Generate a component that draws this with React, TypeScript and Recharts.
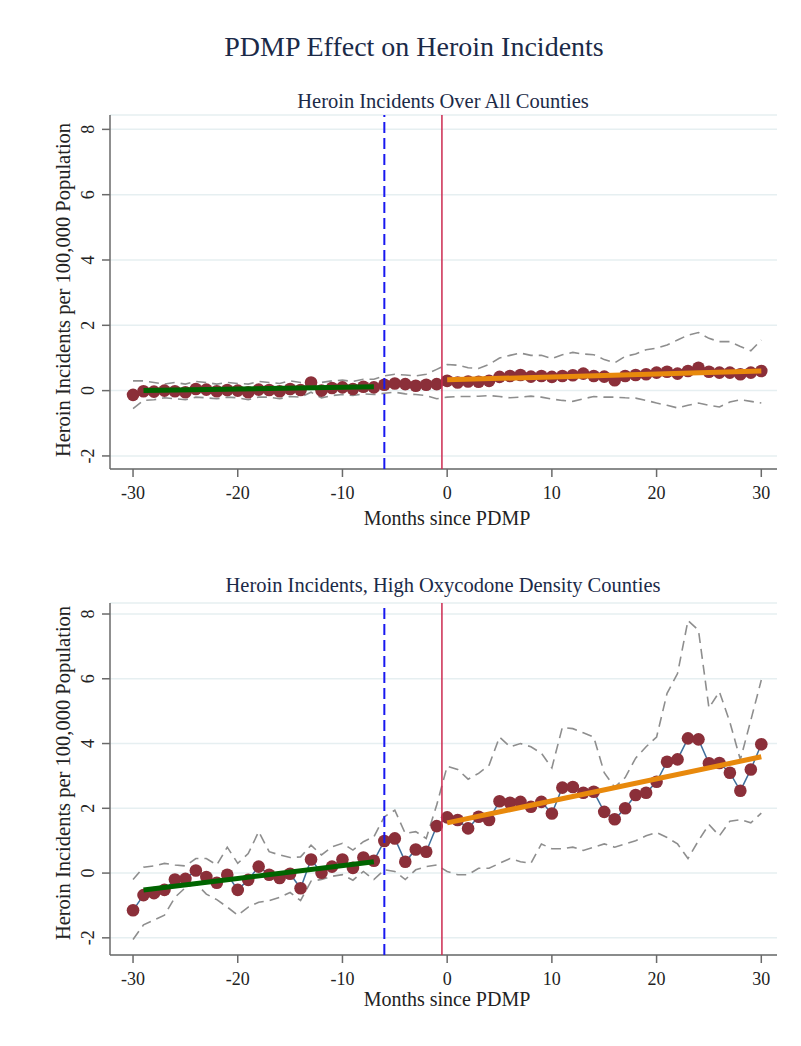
import {
  ComposedChart,
  Line,
  XAxis,
  YAxis,
  CartesianGrid,
  ReferenceLine,
} from 'recharts';

const months = [
  -30, -29, -28, -27, -26, -25, -24, -23, -22, -21, -20, -19, -18, -17, -16, -15, -14, -13, -12,
  -11, -10, -9, -8, -7, -6, -5, -4, -3, -2, -1, 0, 1, 2, 3, 4, 5, 6, 7, 8, 9, 10, 11, 12, 13, 14,
  15, 16, 17, 18, 19, 20, 21, 22, 23, 24, 25, 26, 27, 28, 29, 30,
];

// all counties
const allMean = [
  -0.13, -0.02, -0.03, 0.0, -0.02, -0.05, 0.05, 0.03, -0.02, 0.02, 0.0, -0.05, 0.03, 0.02, -0.02,
  0.05, 0.02, 0.25, 0.0, 0.08, 0.1, 0.05, 0.12, 0.1, 0.18, 0.22, 0.2, 0.15, 0.18, 0.2, 0.3, 0.25,
  0.28, 0.27, 0.3, 0.42, 0.45, 0.48, 0.43, 0.45, 0.42, 0.45, 0.47, 0.52, 0.45, 0.43, 0.32, 0.45,
  0.48, 0.5, 0.55, 0.58, 0.52, 0.6, 0.7, 0.58, 0.55, 0.55, 0.5, 0.55, 0.6,
];
const allUpper = [
  0.3, 0.3, 0.25, 0.2, 0.25, 0.2, 0.28, 0.25, 0.2, 0.25, 0.22, 0.2, 0.28, 0.25, 0.22, 0.3, 0.25,
  0.35, 0.25, 0.3, 0.32, 0.28, 0.35, 0.35, 0.45, 0.5, 0.48, 0.45, 0.5, 0.65, 0.8, 0.78, 0.7, 0.68,
  0.8, 1.0, 1.08, 1.15, 1.08, 1.08, 0.98, 1.1, 1.17, 1.12, 1.1, 0.95, 0.85, 1.05, 1.12, 1.25, 1.3,
  1.4, 1.55, 1.7, 1.78, 1.6, 1.5, 1.5, 1.35, 1.22, 1.55,
];
const allLower = [
  -0.55, -0.3, -0.28, -0.22, -0.25, -0.28, -0.2, -0.22, -0.25, -0.2, -0.22, -0.28, -0.2, -0.2,
  -0.25, -0.18, -0.2, -0.05, -0.22, -0.15, -0.12, -0.15, -0.1, -0.12, -0.08, -0.05, -0.1, -0.12,
  -0.15, -0.25, -0.2, -0.18, -0.18, -0.17, -0.15, -0.18, -0.22, -0.2, -0.17, -0.2, -0.26, -0.3,
  -0.33, -0.25, -0.18, -0.2, -0.2, -0.22, -0.23, -0.3, -0.38, -0.45, -0.53, -0.45, -0.38, -0.45,
  -0.5, -0.35, -0.28, -0.33, -0.38,
];
const allPreFit = [
  { month: -29, value: 0.0 },
  { month: -7, value: 0.12 },
];
const allPostFit = [
  { month: 0, value: 0.33 },
  { month: 30, value: 0.6 },
];

// high oxycodone density counties
const highMean = [
  -1.15, -0.68, -0.62, -0.52, -0.2, -0.18, 0.08, -0.12, -0.3, -0.05, -0.52, -0.21, 0.2, -0.05,
  -0.15, -0.02, -0.47, 0.42, 0.01, 0.2, 0.42, 0.16, 0.48, 0.38, 0.99, 1.07, 0.35, 0.73, 0.66, 1.45,
  1.72, 1.64, 1.38, 1.74, 1.64, 2.22, 2.17, 2.2, 2.05, 2.2, 1.84, 2.64, 2.66, 2.48, 2.51, 1.89,
  1.66, 2.0, 2.41, 2.48, 2.82, 3.44, 3.51, 4.16, 4.13, 3.39, 3.4, 3.1, 2.54, 3.2, 3.98,
];
const highUpper = [
  -0.2, 0.18, 0.22, 0.3, 0.25, 0.22, 0.45, 0.45, 0.25, 0.8, 0.3, 0.6, 1.28, 0.66, 0.56, 0.48, 0.5,
  0.86, 0.56, 0.81, 0.92, 0.71, 0.97, 1.12, 1.74, 1.94, 1.22, 1.28, 1.07, 2.1, 3.3, 3.2, 2.9, 3.08,
  3.33, 4.2, 3.9, 4.0, 3.9, 3.7, 3.25, 4.5, 4.46, 4.33, 4.2, 3.1, 2.65, 2.95, 3.55, 3.9, 4.2, 5.55,
  6.16, 7.8, 7.5, 5.1, 5.6, 4.66, 3.5, 4.72, 5.96,
];
const highLower = [
  -2.05, -1.6, -1.45, -1.3, -0.75, -0.45, -0.32, -0.65, -0.82, -1.05, -1.3, -1.05, -0.9, -0.85,
  -0.75, -0.6, -0.85, -0.25, -0.2, -0.1, -0.05, -0.22, 0.05, -0.2, 0.1, 0.05, -0.2, 0.1, 0.2, 0.25,
  0.05, -0.05, -0.05, 0.15, 0.15, 0.3, 0.45, 0.35, 0.3, 0.9, 0.75, 0.75, 0.8, 0.7, 0.8, 0.9, 0.8,
  0.9, 1.0, 1.15, 1.25, 1.1, 0.9, 0.45, 1.0, 1.5, 1.15, 1.6, 1.65, 1.55, 1.85,
];
const highPreFit = [
  { month: -29, value: -0.52 },
  { month: -7, value: 0.35 },
];
const highPostFit = [
  { month: 0, value: 1.55 },
  { month: 30, value: 3.59 },
];

const xTicks = [-30, -20, -10, 0, 10, 20, 30];
const yTicks = [-2, 0, 2, 4, 6, 8];
const xDomain: [number, number] = [-32.2, 31.5];

const SERIF = '"Liberation Serif", "Times New Roman", serif';
const NAVY = '#1b2a48';
const AXIS = '#6a6a6a';

type Fit = { month: number; value: number };

function buildRows(mean: number[], upper: number[], lower: number[], pre: Fit[], post: Fit[]) {
  return months.map((m, i) => ({
    month: m,
    mean: mean[i],
    upper: upper[i],
    lower: lower[i],
    pre: pre.find((f) => f.month === m)?.value ?? null,
    post: post.find((f) => f.month === m)?.value ?? null,
  }));
}

const allRows = buildRows(allMean, allUpper, allLower, allPreFit, allPostFit);
const highRows = buildRows(highMean, highUpper, highLower, highPreFit, highPostFit);

interface PanelProps {
  rows: ReturnType<typeof buildRows>;
  top: number;
  plotTop: number;
  plotBottom: number;
  yDomain: [number, number];
}

function XTick({ x, y, payload }: any) {
  return (
    <text
      x={x}
      y={y + 20}
      textAnchor="middle"
      fontFamily={SERIF}
      style={{ fontFamily: SERIF }}
      fontSize={18}
      fill="#222"
    >
      {payload.value}
    </text>
  );
}

function YTick({ y, payload }: any) {
  const bx = 94;
  return (
    <text
      x={bx}
      y={y}
      transform={`rotate(-90 ${bx} ${y})`}
      textAnchor="middle"
      fontFamily={SERIF}
      style={{ fontFamily: SERIF }}
      fontSize={18}
      fill="#222"
    >
      {payload.value}
    </text>
  );
}

function Panel({ rows, top, plotTop, plotBottom, yDomain }: PanelProps) {
  const height = 520;
  const mTop = plotTop - top;
  const mBottom = top + height - plotBottom;
  return (
    <div style={{ position: 'absolute', left: 0, top, width: 801, height }}>
      <div style={{ position: 'absolute', left: 0, top: 0 }}>
        <ComposedChart
          width={801}
          height={height}
          data={rows}
          margin={{ top: mTop, left: 70, right: 24, bottom: mBottom - 40 }}
        >
          <CartesianGrid vertical={false} stroke="#e6eff1" strokeWidth={1.5} />
          <XAxis
            type="number"
            dataKey="month"
            domain={xDomain}
            ticks={xTicks}
            allowDataOverflow
            height={40}
            tickSize={8}
            axisLine={{ stroke: AXIS, strokeWidth: 1.5 }}
            tickLine={{ stroke: AXIS, strokeWidth: 1.5 }}
            tick={<XTick />}
          />
          <YAxis
            type="number"
            domain={yDomain}
            ticks={yTicks}
            allowDataOverflow
            width={40}
            tickSize={8}
            axisLine={{ stroke: AXIS, strokeWidth: 1.5 }}
            tickLine={{ stroke: AXIS, strokeWidth: 1.5 }}
            tick={<YTick />}
          />
          <Line
            dataKey="upper"
            stroke="#8e8e8e"
            strokeWidth={1.6}
            strokeDasharray="10 6"
            dot={false}
            activeDot={false}
            isAnimationActive={false}
          />
          <Line
            dataKey="lower"
            stroke="#8e8e8e"
            strokeWidth={1.6}
            strokeDasharray="10 6"
            dot={false}
            activeDot={false}
            isAnimationActive={false}
          />
          <Line
            dataKey="mean"
            stroke="#3f6f9c"
            strokeWidth={1.5}
            dot={(p: any) => <circle key={p.index} cx={p.cx} cy={p.cy} r={6.3} fill="#8b2f39" />}
            activeDot={false}
            isAnimationActive={false}
          />
        </ComposedChart>
      </div>
      {/* second layer so the fitted lines sit on top of the markers */}
      <div style={{ position: 'absolute', left: 0, top: 0 }}>
        <ComposedChart
          width={801}
          height={height}
          data={rows}
          margin={{ top: mTop, left: 110, right: 24, bottom: mBottom }}
        >
          <XAxis type="number" dataKey="month" domain={xDomain} allowDataOverflow hide />
          <YAxis type="number" domain={yDomain} allowDataOverflow hide />
          <Line
            dataKey="pre"
            stroke="#006400"
            strokeWidth={5}
            connectNulls
            dot={false}
            activeDot={false}
            isAnimationActive={false}
          />
          <Line
            dataKey="post"
            stroke="#e8890c"
            strokeWidth={5}
            connectNulls
            dot={false}
            activeDot={false}
            isAnimationActive={false}
          />
          <ReferenceLine x={-6} stroke="#1818f0" strokeWidth={2} strokeDasharray="11 5" />
          <ReferenceLine x={-0.5} stroke="#cc2a50" strokeWidth={1.5} />
        </ComposedChart>
      </div>
    </div>
  );
}

export default function App() {
  return (
    <div
      style={{
        position: 'absolute',
        left: 0,
        top: 0,
        width: 801,
        height: 1046,
        background: '#fff',
        overflow: 'hidden',
      }}
    >
      <Panel rows={allRows} top={0} plotTop={115} plotBottom={469} yDomain={[-2.4, 8.44]} />
      <Panel rows={highRows} top={500} plotTop={603} plotBottom={955} yDomain={[-2.53, 8.34]} />
      <svg
        width={801}
        height={1046}
        style={{ position: 'absolute', left: 0, top: 0, pointerEvents: 'none' }}
        fontFamily={SERIF}
      >
        <text x={414} y={56} textAnchor="middle" fontSize={28} fill={NAVY}>
          PDMP Effect on Heroin Incidents
        </text>
        <text x={443} y={108} textAnchor="middle" fontSize={20.5} fill={NAVY}>
          Heroin Incidents Over All Counties
        </text>
        <text x={443} y={592} textAnchor="middle" fontSize={20.5} fill={NAVY}>
          Heroin Incidents, High Oxycodone Density Counties
        </text>
        <text x={70} y={290} transform="rotate(-90 70 290)" textAnchor="middle" fontSize={20.5} fill="#222">
          Heroin Incidents per 100,000 Population
        </text>
        <text x={70} y={773} transform="rotate(-90 70 773)" textAnchor="middle" fontSize={20.5} fill="#222">
          Heroin Incidents per 100,000 Population
        </text>
        <text x={447} y={525} textAnchor="middle" fontSize={20} fill="#222">
          Months since PDMP
        </text>
        <text x={447} y={1006} textAnchor="middle" fontSize={20} fill="#222">
          Months since PDMP
        </text>
      </svg>
    </div>
  );
}
